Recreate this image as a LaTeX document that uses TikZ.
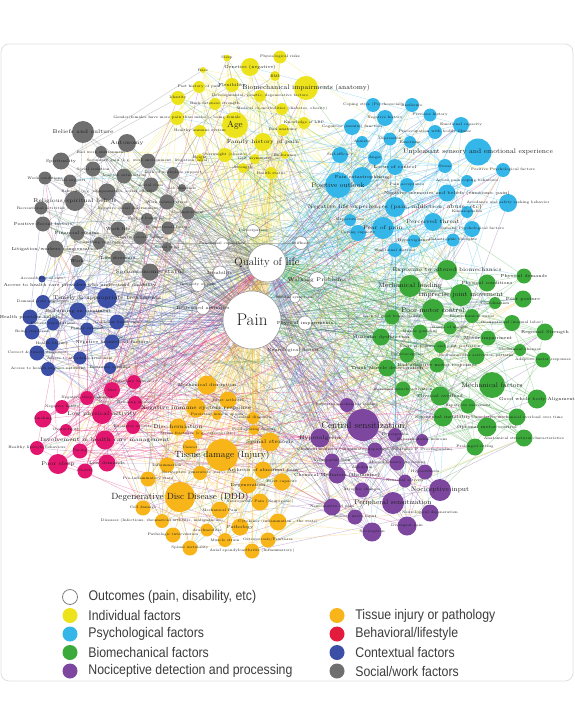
\documentclass[tikz,border=0pt]{standalone}
\usepackage{fontspec}
\newfontfamily\keyfont{Liberation Sans}[FakeStretch=0.88]
\pgfdeclarelayer{bg}
\pgfdeclarelayer{fg}
\pgfsetlayers{bg,main,fg}

\definecolor{indiv}{HTML}{EDE31C}
\definecolor{psych}{HTML}{35B6E9}
\definecolor{biomech}{HTML}{3CAA3A}
\definecolor{nocic}{HTML}{7D47A0}
\definecolor{tissue}{HTML}{F7B519}
\definecolor{behav}{HTML}{E2166F}
\definecolor{behavkey}{HTML}{E31B3C}
\definecolor{context}{HTML}{3B4FA6}
\definecolor{social}{HTML}{6F6F6F}
\definecolor{inkgray}{HTML}{3C3C3C}

\newcounter{vid}

\tikzset{
  fac/.style={circle,fill=#1,draw=none,inner sep=0pt},
  outc/.style={circle,fill=white,draw=black!45,line width=.5pt,inner sep=0pt},
  link/.style={draw=#1,line width=.4pt,opacity=.38},
  lbxs/.style={inner sep=0pt,font=\fontsize{3.6}{4}\selectfont},
  lbs/.style={inner sep=0pt,font=\fontsize{4.4}{5}\selectfont},
  lbm/.style={inner sep=0pt,font=\fontsize{5.4}{6}\selectfont},
  lbl/.style={inner sep=0pt,font=\fontsize{6.6}{7}\selectfont},
  lbxl/.style={inner sep=0pt,font=\fontsize{9}{10}\selectfont},
  keytext/.style={inner sep=0pt,text=inkgray,font=\keyfont\fontsize{14}{16}\selectfont},
}

\begin{document}
\begin{tikzpicture}[x=1pt,y=-1pt,text=black!88]
\useasboundingbox (0,0) rectangle (574,720);
\begin{pgfonlayer}{bg}
\fill[white] (0,0) rectangle (574,720);
\draw[black!12,line width=.8pt,rounded corners=8pt] (1,44) rectangle (573,681);
\end{pgfonlayer}

% outcomes
\node[outc,minimum size=38pt] (qol) at (267,263) {};
\node[outc,minimum size=58pt] (pain) at (252,320) {};
\begin{pgfonlayer}{fg}
\node[inner sep=0pt,font=\fontsize{11}{12}\selectfont] at (qol) {Quality of life};
\node[inner sep=0pt,font=\fontsize{17}{18}\selectfont] at (pain) {Pain};
\end{pgfonlayer}
\foreach \x/\y/\d/\f/\t [count=\i] in {253/231/13/lbxs/{Participation},
    222/244/13/lbxs/{Functional capability}, 301/243/13/lbxs/{Stiffness},
    220/273/14/lbs/{Disability}, 317/280/16/lbm/{Walking Problems},
    198/285/13/lbxs/{Intensity of pain}, 203/308/13/lbs/{Restricted activities},
    295/298/10/lbxs/{Mental symptoms}, 305/323/14/lbs/{Physical impairments},
    293/350/14/lbs/{Neurological deficit}}
  {\stepcounter{vid}\edef\g{\arabic{vid}}
   \node[outc,minimum size=\d pt,alias=v\g] (out\i) at (\x,\y) {};
   \begin{pgfonlayer}{fg}\node[\f] at (out\i) {\t};\end{pgfonlayer}}

% individual factors
\foreach \x/\y/\d/\f/\t [count=\i] in {280/57/13/lbxs/{Physiological risks},
    227/58/7/lbxs/{Sleep}, 203/70/6/lbxs/{Race}, 250/67/18/lbs/{Genetics (negative)},
    275/76/10/lbxs/{BMI}, 232/85/14/lbs/{Flexibility},
    306/88/24/lbl/{Biomechanical impairments (anatomy)}, 199/87/12/lbxs/{Past history of pain},
    178/98/14/lbxs/{Identity}, 260/96/12/lbxs/{Developmental, genetic, degenerative factors},
    215/104/12/lbxs/{Back extensor strength},
    282/109/12/lbxs/{Medical co-morbidities (diabetes, obesity)},
    177/118/14/lbxs/{Gender(females have more pain than males) - being female},
    200/131/12/lbxs/{Healthy immune system}, 235/125/26/lbxl/{Age},
    304/123/12/lbxs/{Knowledge of LBP}, 283/130/12/lbxs/{Bad anatomy},
    263/142/18/lbm/{Family history of pain}, 225/155/14/lbxs/{Overweight (obesity)},
    200/158/8/lbxs/{Height}, 255/159/10/lbxs/{Gait asymmetry}, 285/155/8/lbxs/{Endurance},
    243/168/10/lbxs/{Strength}, 271/173/12/lbxs/{Health status}}
  {\stepcounter{vid}\edef\g{\arabic{vid}}
   \node[fac=indiv,minimum size=\d pt,alias=v\g] (ind\i) at (\x,\y) {};
   \begin{pgfonlayer}{fg}\node[\f] at (ind\i) {\t};\end{pgfonlayer}}

% psychological factors
\foreach \x/\y/\d/\f/\t [count=\i] in {373/105/14/lbxs/{Coping style (Psychosocial)},
    412/105/14/lbxs/{Resilience}, 385/118/16/lbxs/{Negative history},
    430/115/13/lbxs/{Previous history}, 461/125/16/lbxs/{Emotional capacity},
    352/127/16/lbxs/{Cognitive (mental) function},
    435/132/14/lbxs/{Preoccupation with bodily illness}, 390/139/13/lbxs/{Depression},
    362/142/12/lbxs/{Anxiety}, 410/142/12/lbxs/{Emotions},
    478/152/27/lbl/{Unpleasant sensory and emotional experience},
    340/155/16/lbxs/{Self-efficacy}, 375/158/14/lbxs/{Anger},
    395/167/16/lbs/{Locus of control}, 445/166/14/lbxs/{Stress},
    503/170/14/lbxs/{Positive Psychological factors}, 362/177/20/lbs/{Pain catastrophizing},
    467/181/12/lbxs/{Active pain coping behaviors}, 338/185/26/lbl/{Positive outlook},
    407/185/14/lbxs/{Pain acceptance},
    447/193/17/lbs/{Negative memories and beliefs (emotions- pain)},
    508/203/18/lbxs/{Avoidance and safety seeking behavior},
    395/207/20/lbm/{Negative life experiences (pain, addiction, abuse, etc)},
    467/212/12/lbxs/{Kinesiophobia}, 350/220/12/lbxs/{Expectations},
    383/228/22/lbm/{Fear of pain}, 433/222/18/lbm/{Perceived threat},
    472/229/16/lbxs/{Somatic Psychological factors}, 358/233/16/lbxs/{Coping capacity},
    414/241/13/lbxs/{Hypervigilance}, 453/240/13/lbxs/{Catastrophic thoughts},
    395/250/14/lbxs/{Emotional distress}}
  {\stepcounter{vid}\edef\g{\arabic{vid}}
   \node[fac=psych,minimum size=\d pt,alias=v\g] (psy\i) at (\x,\y) {};
   \begin{pgfonlayer}{fg}\node[\f] at (psy\i) {\t};\end{pgfonlayer}}

% biomechanical factors
\foreach \x/\y/\d/\f/\t [count=\i] in {447/270/20/lbm/{Exposure to altered biomechanics},
    524/276/15/lbs/{Physical demands}, 410/286/22/lbl/{Mechanical loading},
    487/283/17/lbs/{Physical conditions}, 461/295/22/lbl/{Imprecise joint movement},
    523/299/17/lbs/{Poor posture}, 495/303/12/lbxs/{Coordination},
    433/310/22/lbl/{Poor motor control}, 392/317/15/lbxs/{Lack of good biomechanics},
    472/316/14/lbxs/{Biomechanical stress}, 512/323/16/lbxs/{Occupational (manual labor)},
    545/332/17/lbs/{Regional Strength}, 420/332/15/lbxs/{Muscle guarding},
    450/328/13/lbxs/{Range of motion}, 381/337/17/lbs/{Muscular dysfunction},
    488/338/15/lbs/{Motor impairment}, 440/347/12/lbxs/{Usage of posture and joint protection},
    520/350/12/lbxs/{Mechanical changes}, 407/355/15/lbxs/{Proprioception},
    476/356/17/lbxs/{Neuromuscular activation patterns},
    543/360/15/lbxs/{Adaptive motor responses}, 437/365/15/lbs/{Bad adaptive motor responses},
    387/368/17/lbs/{Trunk Muscle deterioration}, 492/385/26/lbl/{Mechanical factors},
    403/389/15/lbxs/{Increased muscle activation}, 440/396/19/lbs/{Physical overload},
    468/406/15/lbxs/{Repetitive movement}, 537/399/19/lbs/{Good whole body Alignment},
    443/417/19/lbs/{Segmental instability},
    517/417/17/lbxs/{Cumulative mechanical overload over time},
    487/427/19/lbs/{Optimal motor control},
    524/438/17/lbxs/{Anatomical structural characteristics},
    475/447/17/lbxs/{Prolonged sitting}}
  {\stepcounter{vid}\edef\g{\arabic{vid}}
   \node[fac=biomech,minimum size=\d pt,alias=v\g] (bio\i) at (\x,\y) {};
   \begin{pgfonlayer}{fg}\node[\f] at (bio\i) {\t};\end{pgfonlayer}}

% nociceptive detection and processing
\foreach \x/\y/\d/\f/\t [count=\i] in {347/405/14/lbxs/{Repeated mechanical loading},
    363/425/32/lbxl/{Central sensitization}, 320/438/19/lbm/{Hyperalgesia},
    395/435/14/lbxs/{Hyperpathia}, 422/440/12/lbxs/{Hyperexcitable neurons},
    375/450/15/lbxs/{Chemical mediator (Glutamate, Aspartate, Substance P, Prostaglandin)},
    332/461/15/lbxs/{Neuropathic pain}, 397/463/15/lbxs/{Altered sensory processing},
    362/468/12/lbxs/{Allodynia}, 425/472/15/lbxs/{Hypoesthesia},
    337/475/17/lbs/{Chemical Mediators (Histamine)}, 405/481/13/lbxs/{Neuronal activity},
    362/490/15/lbxs/{Atrophic changes}, 440/490/22/lbl/{Nociceptive input},
    393/503/22/lbl/{Peripheral sensitization}, 332/507/17/lbxs/{Neuromatrix of pain},
    430/513/17/lbxs/{Neurological degeneration}, 355/517/15/lbxs/{Sensory nerve input},
    407/526/19/lbxs/{Divergent pain}, 372/532/19/lbxs/{Nociception}}
  {\stepcounter{vid}\edef\g{\arabic{vid}}
   \node[fac=nocic,minimum size=\d pt,alias=v\g] (noc\i) at (\x,\y) {};
   \begin{pgfonlayer}{fg}\node[\f] at (noc\i) {\t};\end{pgfonlayer}}

% tissue injury or pathology
\foreach \x/\y/\d/\f/\t [count=\i] in {207/385/19/lbs/{Mechanical disruption},
    228/400/17/lbxs/{Facet arthritis}, 196/408/19/lbm/{Negative immune system response},
    217/415/10/lbxs/{Persistent muscle spasm}, 253/418/12/lbxs/{Clinical diagnosis},
    178/427/17/lbm/{Disc herniation}, 198/434/10/lbxs/{Stress fractures (e.g. osteoporotic)},
    254/430/10/lbxs/{Predisposing factors}, 270/442/19/lbm/{Spinal stenosis},
    190/447/15/lbxs/{Cancer}, 222/455/32/lbxl/{Tissue damage (Injury)},
    167/465/15/lbxs/{Inflammation}, 263/470/17/lbs/{Arthritis of abnormal joint},
    200/473/14/lbxs/{Nociceptive generators (nerve root)},
    148/479/15/lbxs/{Pro-inflammatory state}, 248/485/17/lbs/{Degeneration},
    282/482/17/lbxs/{Facet capacity}, 180/497/30/lbxl/{Degenerative Disc Disease (DDD)},
    260/502/17/lbxs/{Neuropathic Pain (Neurogenic)}, 143/508/15/lbxs/{Cell damage},
    220/510/17/lbxs/{Mechanical Pain},
    162/521/14/lbxs/{Diseases (Infections, rheumatoid arthritis, malignancies)},
    278/522/17/lbxs/{Cytokines (inflammation - the state)}, 240/527/17/lbs/{Pathology},
    207/530/13/lbxs/{Arachnoiditis}, 173/535/15/lbxs/{Pathologic intervention},
    225/540/14/lbxs/{Muscle strain}, 268/540/15/lbxs/{Osteoporosis/Fractures},
    190/548/15/lbxs/{Spinal instability}, 252/551/15/lbxs/{Axial spondyloarthritis (Inflammatory)}}
  {\stepcounter{vid}\edef\g{\arabic{vid}}
   \node[fac=tissue,minimum size=\d pt,alias=v\g] (tis\i) at (\x,\y) {};
   \begin{pgfonlayer}{fg}\node[\f] at (tis\i) {\t};\end{pgfonlayer}}

% behavioral / lifestyle
\foreach \x/\y/\d/\f/\t [count=\i] in {134/382/14/lbxs/{Sedentary behavior},
    112/390/16/lbxs/{Diet}, 87/398/14/lbxs/{Negative sleep behavior},
    62/407/14/lbxs/{Negative habits}, 135/403/14/lbxs/{Drinking alcohol},
    102/414/20/lbm/{Low physical activity}, 43/419/17/lbxs/{Smoking},
    133/427/14/lbxs/{Excessive activity}, 66/430/12/lbxs/{Overactivity},
    105/440/19/lbm/{Involvement in health care management},
    37/448/14/lbxs/{Healthy lifestyle behaviors}, 80/451/15/lbxs/{Pacing},
    58/464/20/lbm/{Poor sleep}, 107/463/17/lbs/{Low demands}, 85/471/15/lbxs/{Obesity}}
  {\stepcounter{vid}\edef\g{\arabic{vid}}
   \node[fac=behav,minimum size=\d pt,alias=v\g] (beh\i) at (\x,\y) {};
   \begin{pgfonlayer}{fg}\node[\f] at (beh\i) {\t};\end{pgfonlayer}}

% contextual factors
\foreach \x/\y/\d/\f/\t [count=\i] in {42/279/7/lbxs/{Accessibility of care},
    80/285/12/lbs/{Access to health care providers who understand disability},
    107/298/20/lbm/{Timely \& appropriate treatments}, 43/302/14/lbxs/{Demand from employers},
    78/311/17/lbs/{Bad timing on treatment}, 30/317/15/lbs/{Health provider beliefs},
    53/324/13/lbxs/{Patient expectations}, 117/322/15/lbxs/{Guideline based care},
    87/329/13/lbxs/{Family support}, 32/332/15/lbxs/{Being employed},
    112/342/15/lbs/{Negative biomedical factors}, 52/344/13/lbxs/{Health literacy},
    37/353/15/lbxs/{Correct \& timely diagnoses}, 80/358/13/lbxs/{Access to affordable treatment},
    48/369/14/lbxs/{Access to health support networks}, 110/368/12/lbxs/{Insurance coverage}}
  {\stepcounter{vid}\edef\g{\arabic{vid}}
   \node[fac=context,minimum size=\d pt,alias=v\g] (ctx\i) at (\x,\y) {};
   \begin{pgfonlayer}{fg}\node[\f] at (ctx\i) {\t};\end{pgfonlayer}}

% social / work factors
\foreach \x/\y/\d/\f/\t [count=\i] in {83/132/22/lbm/{Beliefs and culture},
    127/143/18/lbm/{Autonomy}, 101/152/12/lbxs/{Bad work environment},
    61/161/17/lbs/{Spirituality},
    148/161/15/lbxs/{Secondary gain (e.g. work environment, litigation, legal)},
    93/169/15/lbxs/{Social isolation}, 124/176/15/lbxs/{Low job satisfaction},
    173/173/12/lbxs/{Lack of workplace support}, 45/178/13/lbxs/{Work conditions},
    70/181/13/lbxs/{Social support}, 151/185/15/lbxs/{Social class},
    182/188/8/lbxs/{Job demands}, 107/192/17/lbxs/{Rewards (e.g. compensation, social effort)},
    75/201/20/lbm/{Religious/spiritual beliefs}, 41/208/13/lbxs/{Recreational activities},
    167/202/15/lbxs/{Work related stress}, 128/209/13/lbxs/{Negative social environment},
    188/213/13/lbxs/{Unemployment}, 147/219/12/lbxs/{Fear of losing job},
    43/224/15/lbs/{Positive Social factors}, 118/229/15/lbs/{Work life},
    168/228/13/lbxs/{Occupational factors}, 77/233/15/lbs/{Financial strains},
    140/238/13/lbxs/{Negative social beliefs}, 99/243/12/lbxs/{Pre-existing conditions},
    167/247/10/lbxs/{Social roles}, 55/249/17/lbs/{Litigation/workers compensation},
    77/261/12/lbs/{Work}, 118/258/15/lbs/{Life stressors},
    150/272/17/lbm/{Socioeconomic status}}
  {\stepcounter{vid}\edef\g{\arabic{vid}}
   \node[fac=social,minimum size=\d pt,alias=v\g] (soc\i) at (\x,\y) {};
   \begin{pgfonlayer}{fg}\node[\f] at (soc\i) {\t};\end{pgfonlayer}}

\edef\nall{\arabic{vid}}

% connections
\begin{pgfonlayer}{bg}
\pgfmathsetseed{17}
\foreach \c/\col/\n/\m in {ind/indiv/24/85, psy/psych/32/105, bio/biomech/33/105,
    noc/nocic/20/80, tis/tissue/30/95, beh/behav/15/75, ctx/context/16/60,
    soc/social/30/75, out/black!40/10/35}
  {\foreach \i in {1,...,\n}
     {\draw[link=\col] (\c\i) -- (pain);
      \draw[link=\col] (\c\i) -- (qol);}
   \foreach \k in {1,...,\m}
     {\pgfmathtruncatemacro\a{random(1,\n)}
      \pgfmathtruncatemacro\b{random(1,\nall)}
      \draw[link=\col] (\c\a) -- (v\b);}}
\draw[link=black!40] (qol) -- (pain);
\end{pgfonlayer}

% key
\node[outc,minimum size=15pt,line width=.8pt,draw=black!50] (key0) at (70,597) {};
\node[keytext,anchor=west] at ([xshift=10.5pt]key0.east) {Outcomes (pain, disability, etc)};
\foreach \x/\y/\c/\t [count=\k] in {70/615.5/indiv/{Individual factors},
    70/634/psych/{Psychological factors}, 70/652.5/biomech/{Biomechanical factors},
    70/671/nocic/{Nociceptive detection and processing},
    337/615.5/tissue/{Tissue injury or pathology}, 337/634/behavkey/{Behavioral/lifestyle},
    337/652.5/context/{Contextual factors}, 337/671/social/{Social/work factors}}
  {\node[fac=\c,minimum size=15pt] (key\k) at (\x,\y) {};
   \node[keytext,anchor=west] at ([xshift=10.5pt]key\k.east) {\t};}
\end{tikzpicture}
\end{document}
